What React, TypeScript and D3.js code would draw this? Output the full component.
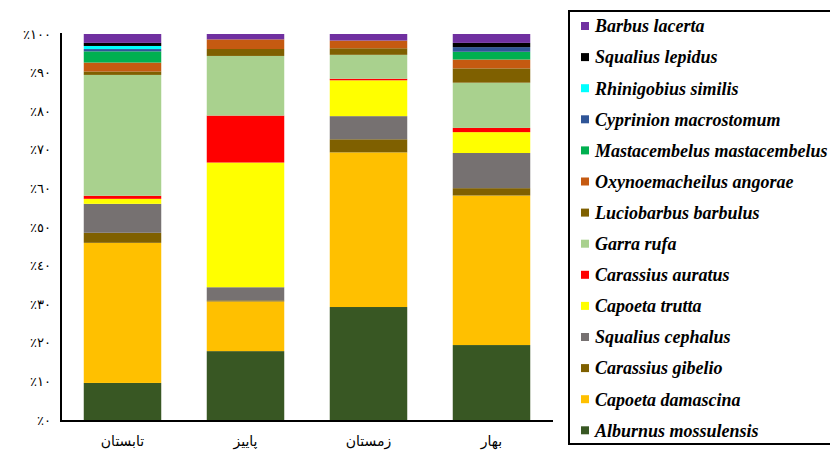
import React from 'react';
import * as d3 from 'd3';

// seasons: summer, autumn, winter, spring
const seasons = ['تابستان', 'پاییز', 'زمستان', 'بهار'];

// share of each species per season (%), bottom of the stack first
const alburnusMossulensis = [9.6, 17.9, 29.3, 19.4];
const capoetaDamascina = [36.3, 12.9, 40.1, 38.7];
const carassiusGibelio = [2.6, 0.3, 3.4, 1.9];
const squaliusCephalus = [7.5, 3.4, 6.0, 9.1];
const capoetaTrutta = [1.3, 32.4, 9.3, 5.4];
const carassiusAuratus = [0.8, 12.2, 0.4, 1.1];
const garraRufa = [31.3, 15.5, 6.2, 11.7];
const luciobarbusBarbulus = [0.9, 1.8, 1.7, 3.7];
const oxynoemacheilusAngorae = [2.3, 2.5, 2.0, 2.3];
const mastacembelus = [2.9, 0, 0, 2.0];
const cyprinionMacrostomum = [0.6, 0, 0, 1.2];
const rhinigobiusSimilis = [0.8, 0, 0, 0];
const squaliusLepidus = [0.8, 0, 0, 1.1];
const barbusLacerta = [2.3, 1.4, 1.7, 2.3];

const species = [
  { name: 'Alburnus mossulensis', values: alburnusMossulensis, color: '#385723' },
  { name: 'Capoeta damascina', values: capoetaDamascina, color: '#FFC000' },
  { name: 'Carassius gibelio', values: carassiusGibelio, color: '#7F6000' },
  { name: 'Squalius cephalus', values: squaliusCephalus, color: '#767171' },
  { name: 'Capoeta trutta', values: capoetaTrutta, color: '#FFFF00' },
  { name: 'Carassius auratus', values: carassiusAuratus, color: '#FF0000' },
  { name: 'Garra rufa', values: garraRufa, color: '#A9D18E' },
  { name: 'Luciobarbus barbulus', values: luciobarbusBarbulus, color: '#7F6000' },
  { name: 'Oxynoemacheilus angorae', values: oxynoemacheilusAngorae, color: '#C55A11' },
  { name: 'Mastacembelus mastacembelus', values: mastacembelus, color: '#00B050' },
  { name: 'Cyprinion macrostomum', values: cyprinionMacrostomum, color: '#2F5597' },
  { name: 'Rhinigobius similis', values: rhinigobiusSimilis, color: '#00FFFF' },
  { name: 'Squalius lepidus', values: squaliusLepidus, color: '#000000' },
  { name: 'Barbus lacerta', values: barbusLacerta, color: '#7030A0' },
];

const yTicks = [0, 0.1, 0.2, 0.3, 0.4, 0.5, 0.6, 0.7, 0.8, 0.9, 1];

const arabicDigits = (n: number) =>
  String(n).replace(/\d/g, (d) => '٠١٢٣٤٥٦٧٨٩'[+d]);

const width = 830;
const height = 450;
const margin = { left: 61, right: 277, top: 34, bottom: 30 };

export default function App() {
  const rows = seasons.map((s, i) => {
    const r: any = { season: s };
    species.forEach((sp) => (r[sp.name] = sp.values[i]));
    return r;
  });

  const stack = d3
    .stack<any>()
    .keys(species.map((s) => s.name))
    .offset(d3.stackOffsetExpand);
  const layers = stack(rows);

  const x = d3
    .scaleBand()
    .domain(seasons)
    .range([margin.left, width - margin.right])
    .paddingInner(0.37)
    .paddingOuter(0.185);

  const y = d3
    .scaleLinear()
    .domain([0, 1])
    .range([height - margin.bottom, margin.top]);

  const legendItems = species.slice().reverse();

  return (
    <svg
      width={width}
      height={height}
      style={{ position: 'absolute', left: 0, top: 0, background: '#fff' }}
    >
      {layers.map((layer, li) => (
        <g key={layer.key} fill={species[li].color}>
          {layer.map((d, i) => (
            <rect
              key={i}
              x={x(seasons[i])}
              y={y(d[1])}
              width={x.bandwidth()}
              height={Math.max(0, y(d[0]) - y(d[1]))}
            />
          ))}
        </g>
      ))}

      {/* axes */}
      <line
        x1={margin.left}
        x2={margin.left}
        y1={y(1) - 1}
        y2={y(0) + 2}
        stroke="#000"
        strokeWidth={2}
      />
      <line
        x1={margin.left - 1}
        x2={width - margin.right}
        y1={y(0) + 1}
        y2={y(0) + 1}
        stroke="#000"
        strokeWidth={2}
      />
      {yTicks.map((t) => (
        <text
          key={t}
          x={51}
          y={y(t)}
          dy="0.35em"
          textAnchor="end"
          fontFamily="DejaVu Sans"
          fontSize={13}
          fill="#000"
        >
          {'٪' + arabicDigits(Math.round(t * 100))}
        </text>
      ))}
      {seasons.map((s) => (
        <text
          key={s}
          x={(x(s) as number) + x.bandwidth() / 2}
          y={441}
          dy="0.35em"
          textAnchor="middle"
          fontFamily="DejaVu Sans"
          fontSize={14}
          fill="#000"
          direction="rtl"
        >
          {s}
        </text>
      ))}

      {/* legend */}
      <rect x={569} y={11} width={270} height={433} fill="none" stroke="#000" strokeWidth={2} />
      {legendItems.map((sp, i) => {
        const cy = 26 + i * 31.1;
        return (
          <g key={sp.name}>
            <rect x={581} y={cy - 4} width={8} height={8} fill={sp.color} />
            <text
              x={595}
              y={cy}
              dy="0.35em"
              fontFamily="Liberation Serif"
              fontStyle="italic"
              fontWeight="bold"
              fontSize={18}
              fill="#000"
            >
              {sp.name}
            </text>
          </g>
        );
      })}
    </svg>
  );
}
